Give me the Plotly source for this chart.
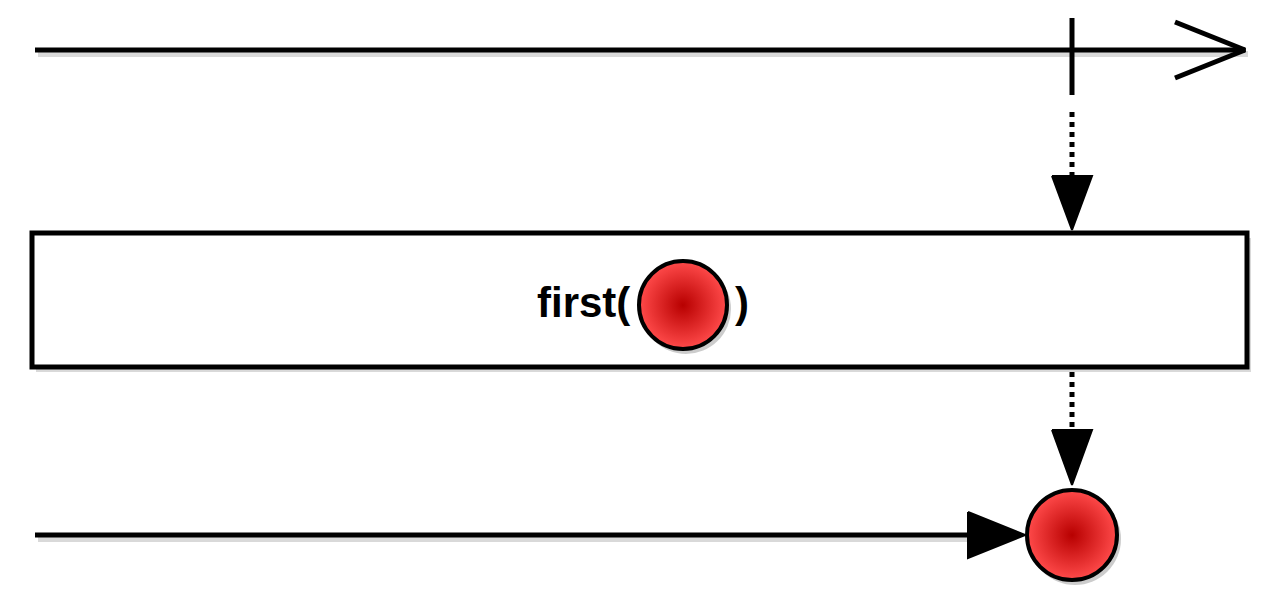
import plotly.graph_objects as go

# diagram data (pixel-like coordinate space 1280 x 610)
input_line_y = 50
output_line_y = 535
timeline_start = 35
timeline_end = 1245
output_end = 1025
event_x = [1072]          # time of the first emitted item
operator_label = "first("
operator_close = ")"
marble_colors = ["#b80000"]

fig = go.Figure()

def line(xs, ys, w=5, dash=None):
    fig.add_trace(go.Scatter(x=xs, y=ys, mode="lines", hoverinfo="skip",
                             line=dict(color="black", width=w, dash=dash), showlegend=False))

def shadow(xs, ys, w=6):
    fig.add_trace(go.Scatter(x=[v + 3 for v in xs], y=[v + 4 for v in ys], mode="lines",
                             hoverinfo="skip", line=dict(color="rgba(0,0,0,0.15)", width=w),
                             showlegend=False))

def tri(pts):
    xs = [p[0] for p in pts] + [pts[0][0]]
    ys = [p[1] for p in pts] + [pts[0][1]]
    fig.add_trace(go.Scatter(x=xs, y=ys, mode="lines", fill="toself", fillcolor="black",
                             line=dict(color="black", width=2), hoverinfo="skip", showlegend=False))

ex = event_x[0]
# input timeline
shadow([timeline_start, timeline_end], [input_line_y, input_line_y])
line([timeline_start, timeline_end], [input_line_y, input_line_y])
line([1175, timeline_end, 1175], [22, input_line_y, 78])
line([ex, ex], [18, 95], w=5)
# dotted to operator
line([ex, ex], [112, 178], w=5, dash="dot")
tri([(1052, 176), (1092, 176), (ex, 230)])

# operator box
fig.add_shape(type="rect", x0=36, y0=238, x1=1251, y1=372, fillcolor="rgba(0,0,0,0.15)",
              line=dict(width=0), layer="below")
fig.add_shape(type="rect", x0=32, y0=233, x1=1247, y1=367, fillcolor="white",
              line=dict(color="black", width=5), layer="below")
fig.add_annotation(x=632, y=302, text="<b>" + operator_label + "</b>", showarrow=False,
                   xanchor="right", font=dict(family="Liberation Sans", size=42, color="black"))
fig.add_annotation(x=733, y=302, text="<b>" + operator_close + "</b>", showarrow=False,
                   xanchor="left", font=dict(family="Liberation Sans", size=42, color="black"))

# dotted to output
line([ex, ex], [372, 432], w=5, dash="dot")
tri([(1052, 430), (1092, 430), (ex, 485)])

# output timeline
shadow([timeline_start, 975], [output_line_y, output_line_y])
line([timeline_start, 975], [output_line_y, output_line_y])
tri([(968, 512), (968, 558), (output_end, output_line_y)])

# marbles
fig.add_trace(go.Scatter(x=[686, ex + 3], y=[309, output_line_y + 4], mode="markers", hoverinfo="skip",
                         marker=dict(size=[90, 92], color="rgba(0,0,0,0.2)", opacity=1,
                                     line=dict(width=0)),
                         showlegend=False))
fig.add_trace(go.Scatter(x=[683, ex], y=[305, output_line_y], mode="markers", hoverinfo="skip",
                         marker=dict(size=[88, 90], color="#ff4a4a", opacity=1,
                                     gradient=dict(type="radial", color=marble_colors[0]),
                                     line=dict(color="black", width=4)),
                         showlegend=False))

# page body has an 8px margin; shift ranges to compensate
fig.update_layout(width=1280, height=610, margin=dict(l=0, r=0, t=0, b=0),
                  plot_bgcolor="white", paper_bgcolor="white",
                  xaxis=dict(range=[8, 1288], visible=False, fixedrange=True),
                  yaxis=dict(range=[618, 8], visible=False, fixedrange=True))
fig.write_html("out.html")
